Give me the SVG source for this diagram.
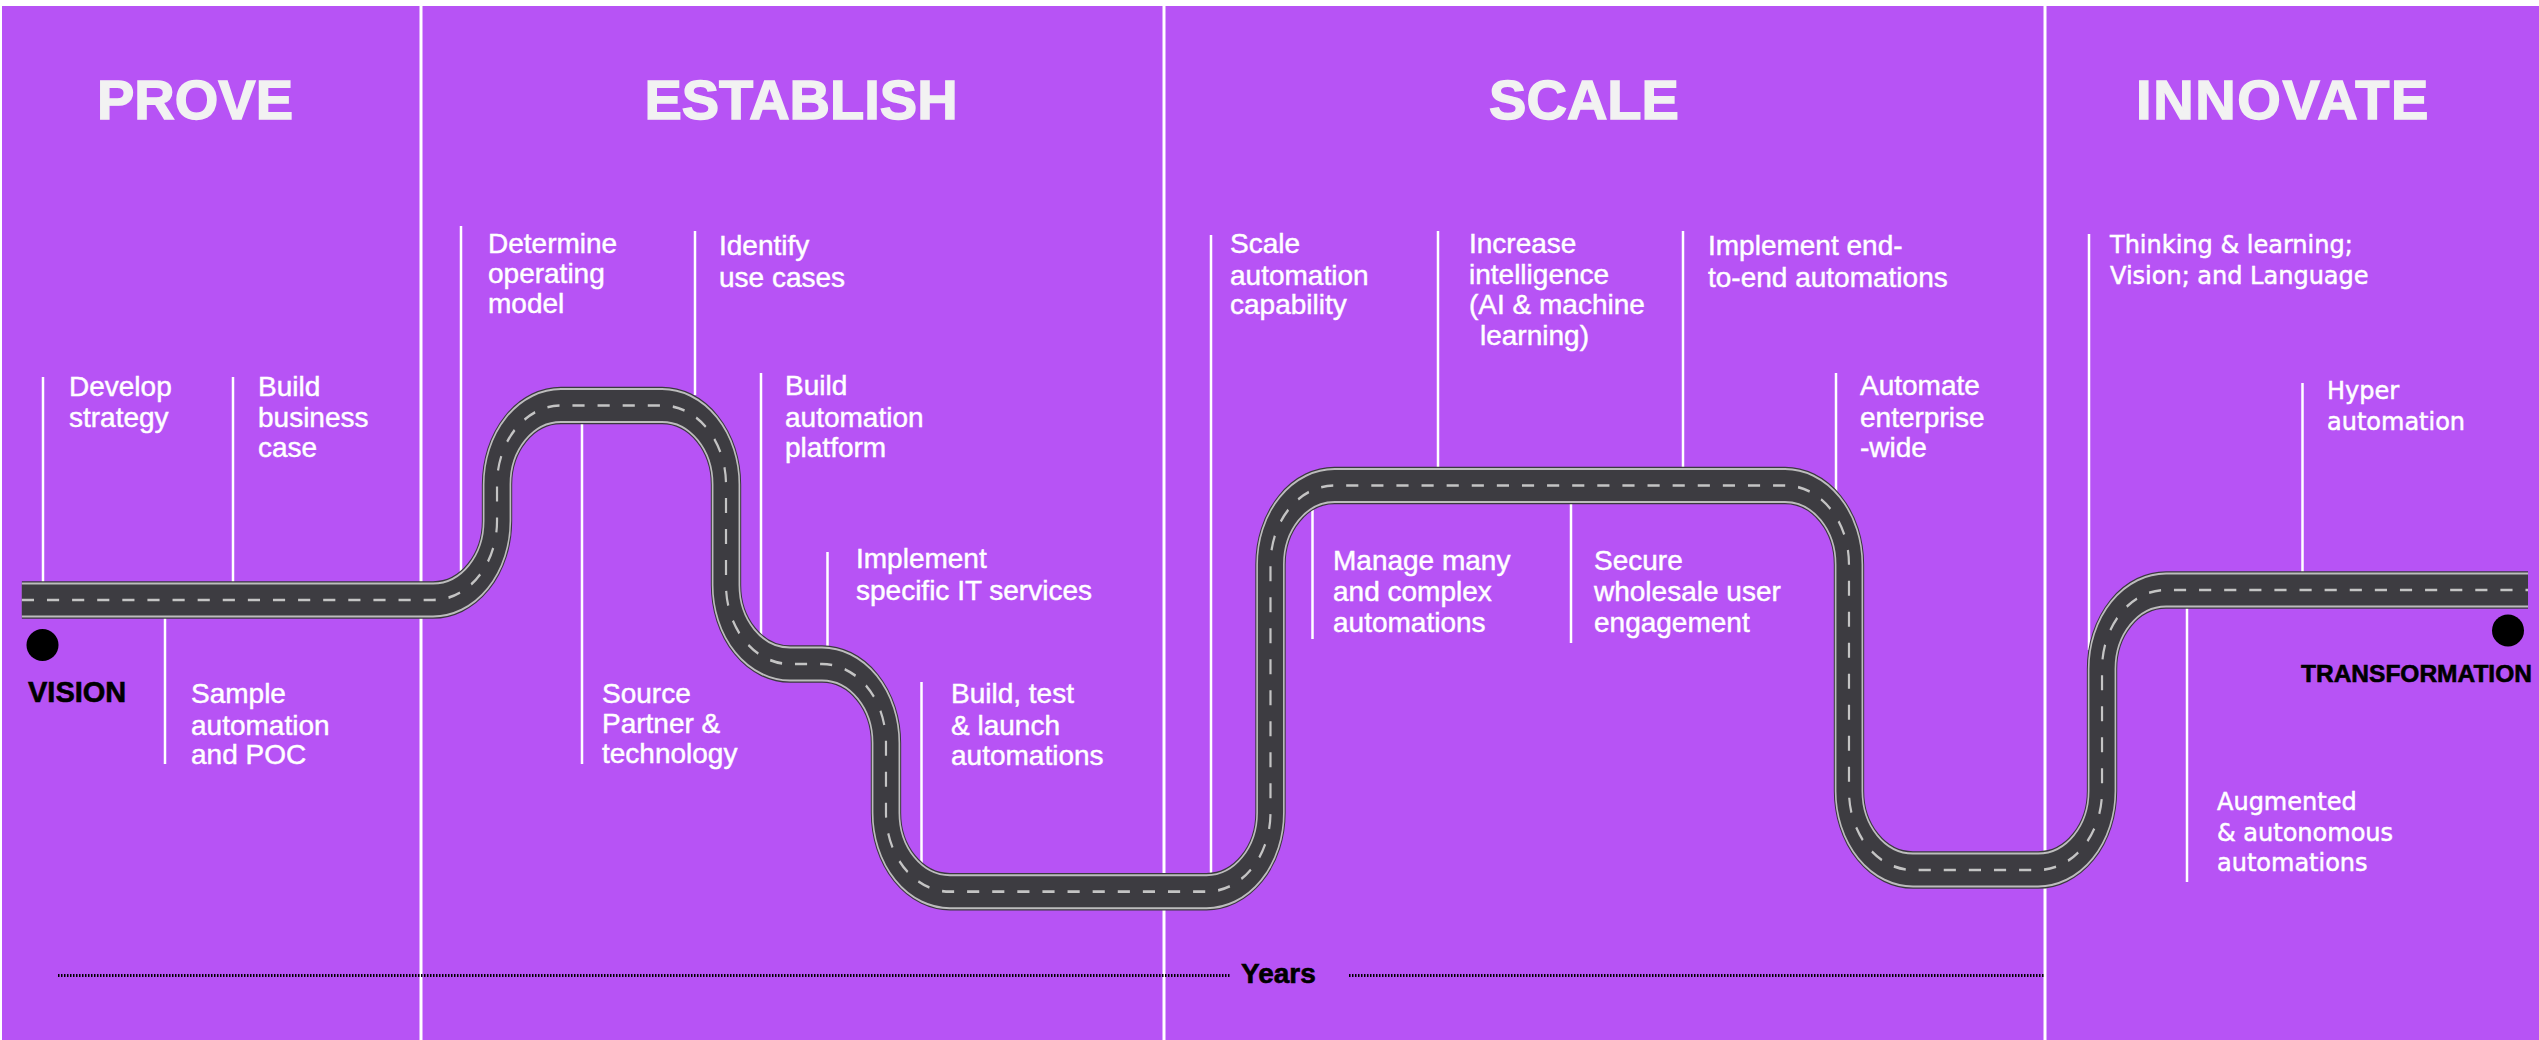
<svg xmlns="http://www.w3.org/2000/svg" width="2539" height="1040" viewBox="0 0 2539 1040">
<defs>
<style>
.lbl{font-family:"Liberation Sans",Arial,sans-serif;font-size:28px;fill:#ffffff;stroke:#ffffff;stroke-width:0.45}
.lbi{font-family:"DejaVu Sans",sans-serif;font-size:24px;fill:#ffffff;stroke:#ffffff;stroke-width:0.5}
.ttl{font-family:"Liberation Sans",Arial,sans-serif;font-size:56px;font-weight:700;fill:#f2f2f2;stroke:#f2f2f2;stroke-width:1.4;text-anchor:middle}
.blk{font-family:"Liberation Sans",Arial,sans-serif;font-weight:700;fill:#000000;stroke:#000000;stroke-width:0.6}
.div{stroke:#ffffff;stroke-width:3}
.ldr{stroke:#ffffff;stroke-width:2.5}
.r0{fill:none;stroke:#3a393e;stroke-width:37.5}
.r1{fill:none;stroke:#bdbdbd;stroke-width:35}
.r2{fill:none;stroke:#3d3c41;stroke-width:31}
.r3{fill:none;stroke:#c4c4c4;stroke-width:2.7;stroke-dasharray:15 16}
.dots{stroke:#000000;stroke-width:3;stroke-dasharray:1.5 1.5}
</style>
<path id="roadpath" d="M 27 600 H 534.6 A 79 79 0 0 0 613.6 521 V 484.5 A 79 79 0 0 1 692.6 405.5 H 817.3 A 79 79 0 0 1 896.3 484.5 V 585 A 79 79 0 0 0 975.3 664 H 1014.8 A 79 79 0 0 1 1093.8 743 V 812.7 A 79 79 0 0 0 1172.8 891.7 H 1489.5 A 79 79 0 0 0 1568.5 812.7 V 564.5 A 79 79 0 0 1 1647.5 485.5 H 2203.7 A 79 79 0 0 1 2282.7 564.5 V 791 A 79 79 0 0 0 2361.7 870 H 2516.1 A 79 79 0 0 0 2595.1 791 V 669 A 79 79 0 0 1 2674.1 590 H 3121"/>
</defs>

<g id="background">
<rect x="0" y="0" width="2539" height="1040" fill="#ffffff"/>
<rect x="2" y="6" width="2537" height="1034" fill="#b753f5"/>
</g>

<g id="dividers">
<line class="div" x1="421" y1="6" x2="421" y2="1040"/>
<line class="div" x1="1164" y1="6" x2="1164" y2="1040"/>
<line class="div" x1="2045" y1="6" x2="2045" y2="1040"/>
</g>

<g id="titles">
<text class="ttl" x="195" y="119">PROVE</text>
<text class="ttl" x="801" y="119">ESTABLISH</text>
<text class="ttl" x="1584" y="119">SCALE</text>
<text class="ttl" x="2283" y="119" letter-spacing="1.6">INNOVATE</text>
</g>

<g id="connectors">
<line class="ldr" x1="43" y1="377" x2="43" y2="585"/>
<line class="ldr" x1="233" y1="377" x2="233" y2="585"/>
<line class="ldr" x1="165" y1="615" x2="165" y2="764"/>
<line class="ldr" x1="461" y1="226" x2="461" y2="575"/>
<line class="ldr" x1="695" y1="231" x2="695" y2="395"/>
<line class="ldr" x1="582" y1="420" x2="582" y2="764"/>
<line class="ldr" x1="761" y1="373" x2="761" y2="640"/>
<line class="ldr" x1="827.5" y1="552" x2="827.5" y2="650"/>
<line class="ldr" x1="921.5" y1="682" x2="921.5" y2="866"/>
<line class="ldr" x1="1211" y1="235" x2="1211" y2="876"/>
<line class="ldr" x1="1438" y1="231" x2="1438" y2="471"/>
<line class="ldr" x1="1683" y1="231" x2="1683" y2="471"/>
<line class="ldr" x1="1836" y1="373" x2="1836" y2="496"/>
<line class="ldr" x1="1312.5" y1="505" x2="1312.5" y2="639"/>
<line class="ldr" x1="1571" y1="500" x2="1571" y2="643"/>
<line class="ldr" x1="2089" y1="234" x2="2089" y2="650"/>
<line class="ldr" x1="2302.5" y1="383" x2="2302.5" y2="575"/>
<line class="ldr" x1="2187" y1="605" x2="2187" y2="882"/>
</g>

<g id="road" transform="scale(0.81,1)">
<use href="#roadpath" class="r0"/>
<use href="#roadpath" class="r1"/>
<use href="#roadpath" class="r2"/>
<use href="#roadpath" class="r3"/>
</g>

<g id="n-vision">
<circle cx="42.5" cy="645" r="16" fill="#000000"/>
<text class="blk" x="28" y="702" font-size="29">VISION</text>
</g>
<g id="n-transformation">
<circle cx="2508" cy="630.5" r="16" fill="#000000"/>
<text class="blk" x="2301" y="682" font-size="24.5">TRANSFORMATION</text>
</g>

<g id="n-develop"><text class="lbl"><tspan x="69" y="396">Develop</tspan><tspan x="69" y="427">strategy</tspan></text></g>
<g id="n-buildcase"><text class="lbl"><tspan x="258" y="396">Build</tspan><tspan x="258" y="427">business</tspan><tspan x="258" y="457">case</tspan></text></g>
<g id="n-sample"><text class="lbl"><tspan x="191" y="703">Sample</tspan><tspan x="191" y="735">automation</tspan><tspan x="191" y="764">and POC</tspan></text></g>
<g id="n-determine"><text class="lbl"><tspan x="488" y="253">Determine</tspan><tspan x="488" y="283">operating</tspan><tspan x="488" y="313">model</tspan></text></g>
<g id="n-identify"><text class="lbl"><tspan x="719" y="255">Identify</tspan><tspan x="719" y="287">use cases</tspan></text></g>
<g id="n-source"><text class="lbl"><tspan x="602" y="703">Source</tspan><tspan x="602" y="733">Partner &amp;</tspan><tspan x="602" y="763">technology</tspan></text></g>
<g id="n-platform"><text class="lbl"><tspan x="785" y="395">Build</tspan><tspan x="785" y="427">automation</tspan><tspan x="785" y="457">platform</tspan></text></g>
<g id="n-itservices"><text class="lbl"><tspan x="856" y="568">Implement</tspan><tspan x="856" y="600">specific IT services</tspan></text></g>
<g id="n-launch"><text class="lbl"><tspan x="951" y="703">Build, test</tspan><tspan x="951" y="735">&amp; launch</tspan><tspan x="951" y="765">automations</tspan></text></g>
<g id="n-scale"><text class="lbl"><tspan x="1230" y="253">Scale</tspan><tspan x="1230" y="285">automation</tspan><tspan x="1230" y="314">capability</tspan></text></g>
<g id="n-intelligence"><text class="lbl"><tspan x="1469" y="253">Increase</tspan><tspan x="1469" y="284">intelligence</tspan><tspan x="1469" y="314">(AI &amp; machine</tspan><tspan x="1480" y="345">learning)</tspan></text></g>
<g id="n-endtoend"><text class="lbl"><tspan x="1708" y="255">Implement end-</tspan><tspan x="1708" y="287">to-end automations</tspan></text></g>
<g id="n-enterprise"><text class="lbl"><tspan x="1860" y="395">Automate</tspan><tspan x="1860" y="427">enterprise</tspan><tspan x="1860" y="457">-wide</tspan></text></g>
<g id="n-manage"><text class="lbl"><tspan x="1333" y="570">Manage many</tspan><tspan x="1333" y="601">and complex</tspan><tspan x="1333" y="632">automations</tspan></text></g>
<g id="n-secure"><text class="lbl"><tspan x="1594" y="570">Secure</tspan><tspan x="1594" y="601">wholesale user</tspan><tspan x="1594" y="632">engagement</tspan></text></g>
<g id="n-thinking"><text class="lbi"><tspan x="2110" y="253">Thinking &amp; learning;</tspan><tspan x="2110" y="284">Vision; and Language</tspan></text></g>
<g id="n-hyper"><text class="lbi"><tspan x="2327" y="399">Hyper</tspan><tspan x="2327" y="430">automation</tspan></text></g>
<g id="n-augmented"><text class="lbi"><tspan x="2217" y="810">Augmented</tspan><tspan x="2217" y="841">&amp; autonomous</tspan><tspan x="2217" y="871">automations</tspan></text></g>

<g id="timeline">
<line class="dots" x1="58" y1="975.5" x2="1230" y2="975.5"/>
<text class="blk" x="1241" y="983" font-size="28">Years</text>
<line class="dots" x1="1349" y1="975.5" x2="2045" y2="975.5"/>
</g>
</svg>
